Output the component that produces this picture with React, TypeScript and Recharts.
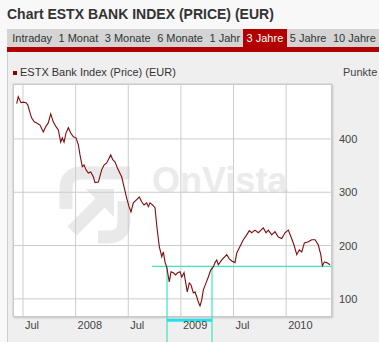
import React from "react";
import {
  LineChart,
  Line,
  XAxis,
  YAxis,
  CartesianGrid,
  ReferenceLine,
} from "recharts";

// months since Jan 2007 (6 = Jul 2007, 12 = Jan 2008, ...)
const months = [
  5.28, 5.46, 5.77, 6.03, 6.34, 6.54, 6.8, 6.99, 7.29, 7.56, 7.94, 8.31, 8.59, 8.88, 9.16, 9.45,
  9.76, 10.03, 10.3, 10.48, 10.68, 10.9, 11.17, 11.44, 11.74, 12.04, 12.31, 12.5, 12.76, 12.96,
  13.18, 13.45, 13.72, 14.02, 14.21, 14.59, 14.97, 15.24, 15.54, 15.73, 16.0, 16.23, 16.49, 16.75,
  16.98, 17.25, 17.52, 17.82, 18.09, 18.31, 18.58, 18.96, 19.26, 19.53, 19.8, 20.1, 20.29, 20.48,
  20.79, 21.05, 21.28, 21.54, 21.82, 22.0, 22.19, 22.38, 22.68, 22.88, 23.14, 23.41, 23.64, 23.9,
  24.1, 24.36, 24.55, 24.73, 24.96, 25.16, 25.42, 25.61, 25.81, 25.99, 26.18, 26.38, 26.56, 26.87,
  27.13, 27.4, 27.7, 27.89, 28.09, 28.27, 28.66, 29.23, 29.52, 29.8, 30.17, 30.37, 30.74, 31.12,
  31.51, 31.8, 32.08, 32.45, 32.83, 33.4, 33.71, 33.97, 34.36, 34.73, 35.11, 35.5, 35.87, 36.25,
  36.56, 36.9, 37.21, 37.51, 37.78, 38.08, 38.53, 38.92, 39.3, 39.67, 39.95, 40.13, 40.36, 40.63,
  41.01,
];

const prices = [
  466, 479, 468, 469, 468, 464, 449, 439, 432, 430, 426, 413, 423, 430, 447, 432,
  423, 417, 394, 402, 394, 411, 421, 411, 404, 402, 389, 370, 348, 351,
  342, 336, 338, 329, 318, 319, 342, 351, 355, 361, 370, 361, 357, 346,
  338, 329, 310, 289, 273, 263, 280, 286, 291, 282, 276, 280, 273, 280,
  276, 271, 233, 198, 179, 188, 169, 160, 132, 151, 149, 145, 149, 151,
  141, 149, 130, 113, 130, 126, 111, 113, 104, 94, 87, 98, 117, 130,
  141, 154, 160, 168, 173, 164, 173, 183, 175, 171, 168, 186, 198, 211,
  220, 228, 224, 229, 224, 233, 224, 229, 220, 226, 216, 213, 224, 229,
  216, 201, 183, 192, 188, 205, 207, 211, 211, 201, 183, 162, 169, 168,
  164,
];

const xTicks = [6, 12, 18, 24, 30, 36];
const xTickLabels = ["Jul", "2008", "Jul", "2009", "Jul", "2010"];
const yTicks = [100, 200, 300, 400];

const tabs = ["Intraday", "1 Monat", "3 Monate", "6 Monate", "1 Jahr", "3 Jahre", "5 Jahre", "10 Jahre"];
const activeTab = "3 Jahre";

// annotation drawn on the chart (support level and low range)
const supportLevel = 161;
const supportFrom = 20.71;
const lowRangeFrom = 22.42;
const lowRangeTo = 27.55;
const lowRangeBar = 60;
const annotationBottom = 19;

const xDomain = [4.86, 41.23];
const yDomain = [66, 503];

const data = months.map((m, i) => ({ t: m, price: prices[i] }));

const FONT = '"Liberation Sans", Arial, sans-serif';

const XTick = (props: any) => {
  const { x, y, payload } = props;
  const idx = xTicks.indexOf(payload.value);
  return (
    <text x={x + 2} y={y + 10} fontSize={11} fill="#444" fontFamily={FONT} textAnchor="start">
      {xTickLabels[idx]}
    </text>
  );
};

const YTick = (props: any) => {
  const { x, y, payload } = props;
  return (
    <text x={x + 5} y={y + 4} fontSize={11} fill="#444" fontFamily={FONT} textAnchor="start">
      {payload.value}
    </text>
  );
};

export default function App() {
  return (
    <div
      style={{
        position: "absolute",
        left: 0,
        top: 0,
        width: 379,
        height: 342,
        overflow: "hidden",
        background: "#f8f8f8",
        fontFamily: FONT,
      }}
    >
      <div style={{ position: "absolute", left: 7, top: 6, fontSize: 14, fontWeight: 700, color: "#333" }}>
        Chart ESTX BANK INDEX (PRICE) (EUR)
      </div>

      {/* tab bar */}
      <div
        style={{
          position: "absolute",
          left: 7,
          top: 29,
          width: 372,
          height: 18,
          background: "#d4d4d4",
          display: "flex",
          paddingLeft: 2,
          boxSizing: "border-box",
        }}
      >
        {tabs.map((t) => (
          <div
            key={t}
            style={{
              padding: "0 3.25px",
              lineHeight: "18px",
              fontSize: 11,
              color: t === activeTab ? "#fff" : "#333",
              background: t === activeTab ? "#b20000" : "transparent",
              whiteSpace: "nowrap",
            }}
          >
            {t}
          </div>
        ))}
      </div>
      <div style={{ position: "absolute", left: 7, top: 47, width: 372, height: 5, background: "#b20000" }} />

      {/* panel */}
      <div
        style={{
          position: "absolute",
          left: 7,
          top: 52,
          width: 372,
          height: 290,
          background: "#efefef",
          borderLeft: "1px solid #cfcfcf",
        }}
      />
      <div style={{ position: "absolute", left: 13, top: 71, width: 4, height: 4, background: "#8b0000" }} />
      <div style={{ position: "absolute", left: 20, top: 66, fontSize: 11, color: "#333" }}>
        ESTX Bank Index (Price) (EUR)
      </div>
      <div style={{ position: "absolute", left: 343, top: 66, fontSize: 11, color: "#444" }}>Punkte</div>

      {/* plot background + watermark */}
      <div
        style={{
          position: "absolute",
          left: 13,
          top: 84,
          width: 319,
          height: 233,
          boxSizing: "border-box",
          background: "#fff",
          border: "1px solid #c8c8c8",
          boxShadow: "1px 1px 2px rgba(0,0,0,0.18)",
        }}
      >
        <svg width={80} height={80} style={{ position: "absolute", left: 44, top: 80 }}>
          <g fill="none" stroke="#e9e9e9" strokeWidth={13}>
            <path d="M8,44 V24 Q8,8 24,8 H72" />
            <path d="M66,36 V56 Q66,72 50,72 H40" />
            <path d="M14,66 L46,34" />
          </g>
          <path d="M28,24 H56 V52 Z" fill="#e9e9e9" />
        </svg>
        <div
          style={{
            position: "absolute",
            left: 138,
            top: 76,
            fontSize: 36,
            fontWeight: 700,
            color: "#ebebeb",
            lineHeight: "40px",
          }}
        >
          OnVista
        </div>
      </div>

      <LineChart
        width={379}
        height={342}
        data={data}
        margin={{ top: 84, right: 0, bottom: 0, left: 13 }}
        style={{ position: "absolute", left: 0, top: 0 }}
      >
        <CartesianGrid stroke="#cccccc" fill="none" />
        <XAxis
          dataKey="t"
          type="number"
          domain={xDomain}
          ticks={xTicks}
          allowDataOverflow
          axisLine={false}
          tickLine={false}
          tickSize={0}
          height={25}
          tick={<XTick />}
        />
        <YAxis
          orientation="right"
          type="number"
          domain={yDomain}
          ticks={yTicks}
          allowDataOverflow
          axisLine={false}
          tickLine={false}
          tickSize={0}
          width={47}
          tick={<YTick />}
        />
        <ReferenceLine
          segment={[
            { x: supportFrom, y: supportLevel },
            { x: xDomain[1], y: supportLevel },
          ]}
          stroke="#3ee6bf"
          strokeWidth={1.2}
          ifOverflow="visible"
        />
        <ReferenceLine
          segment={[
            { x: lowRangeFrom, y: supportLevel },
            { x: lowRangeFrom, y: annotationBottom },
          ]}
          stroke="#3ee6bf"
          strokeWidth={1.2}
          ifOverflow="visible"
        />
        <ReferenceLine
          segment={[
            { x: lowRangeTo, y: supportLevel },
            { x: lowRangeTo, y: annotationBottom },
          ]}
          stroke="#3ee6bf"
          strokeWidth={1.2}
          ifOverflow="visible"
        />
        <ReferenceLine
          segment={[
            { x: lowRangeFrom, y: lowRangeBar },
            { x: lowRangeTo, y: lowRangeBar },
          ]}
          stroke="#1fe3e8"
          strokeWidth={3}
          ifOverflow="visible"
        />
        <Line
          type="linear"
          dataKey="price"
          stroke="#850a0a"
          strokeWidth={1.1}
          dot={false}
          isAnimationActive={false}
        />
      </LineChart>
    </div>
  );
}
